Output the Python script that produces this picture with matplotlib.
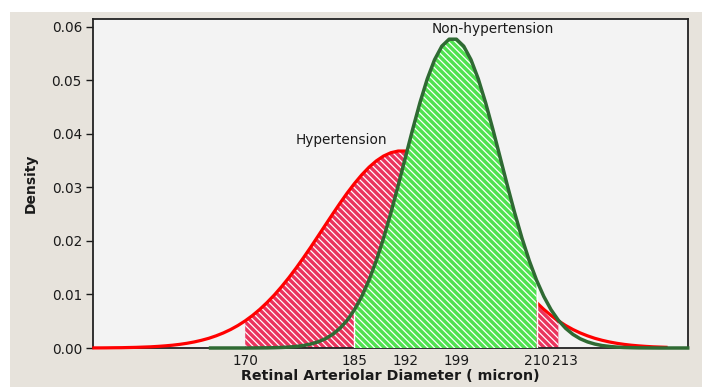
import matplotlib
matplotlib.use("Agg")
import matplotlib.pyplot as plt
import numpy as np
from matplotlib.patches import Rectangle

# ---- data ----
hyp_x = list(range(149, 229))
hyp_density = [
    0.00002, 0.00002, 0.00003, 0.00005, 0.00006, 0.00009, 0.00012, 0.00017, 0.00022, 0.00030,
    0.00040, 0.00052, 0.00068, 0.00088, 0.00113, 0.00144, 0.00181, 0.00227, 0.00281, 0.00345,
    0.00420, 0.00507, 0.00607, 0.00721, 0.00849, 0.00990, 0.01146, 0.01314, 0.01494, 0.01685,
    0.01883, 0.02088, 0.02294, 0.02499, 0.02700, 0.02892, 0.03070, 0.03232, 0.03374, 0.03492,
    0.03583, 0.03645, 0.03676, 0.03676, 0.03645, 0.03583, 0.03492, 0.03374, 0.03232, 0.03070,
    0.02892, 0.02700, 0.02499, 0.02294, 0.02088, 0.01883, 0.01685, 0.01494, 0.01314, 0.01146,
    0.00990, 0.00849, 0.00721, 0.00607, 0.00507, 0.00420, 0.00345, 0.00281, 0.00227, 0.00181,
    0.00144, 0.00113, 0.00088, 0.00068, 0.00052, 0.00040, 0.00030, 0.00022, 0.00017, 0.00012,
]
non_x = list(range(165, 232))
non_density = [
    0.0, 0.0, 0.0, 0.0, 0.0, 0.0, 0.00001, 0.00002, 0.00003, 0.00006,
    0.00010, 0.00017, 0.00029, 0.00046, 0.00074, 0.00114, 0.00172, 0.00254, 0.00367, 0.00517,
    0.00713, 0.00962, 0.01267, 0.01631, 0.02051, 0.02522, 0.03031, 0.03559, 0.04084, 0.04581,
    0.05022, 0.05380, 0.05633, 0.05763, 0.05763, 0.05633, 0.05380, 0.05022, 0.04581, 0.04084,
    0.03559, 0.03031, 0.02522, 0.02051, 0.01631, 0.01267, 0.00962, 0.00713, 0.00517, 0.00367,
    0.00254, 0.00172, 0.00114, 0.00074, 0.00046, 0.00029, 0.00017, 0.00010, 0.00006, 0.00003,
    0.00002, 0.00001, 0.0, 0.0, 0.0, 0.0, 0.0,
]
hyp_shade = (170, 213)
non_shade = (185, 210)
x_ticks = [170, 185, 192, 199, 210, 213]
y_ticks = [0.00, 0.01, 0.02, 0.03, 0.04, 0.05, 0.06]
labels = {"Hypertension": (183.2, 0.0388), "Non-hypertension": (204.0, 0.0596)}

# ---- styling ----
plt.rcParams['font.family'] = ['DejaVu Sans']
plt.rcParams['hatch.linewidth'] = 0.9

fig = plt.figure(figsize=(7.02, 3.87), dpi=100, facecolor='white')
bg = Rectangle((10 / 702, 0), 1, 1 - 12 / 387, transform=fig.transFigure,
               facecolor='#e7e3dc', edgecolor='none', zorder=-10)
fig.patches.append(bg)
ax = fig.add_axes([93 / 702, 1 - 348 / 387, (688 - 93) / 702, (348 - 19) / 387])
ax.set_zorder(1)
ax.set_facecolor('#f3f3f3')

hx = np.array(hyp_x, dtype=float)
hy = np.array(hyp_density)
nx = np.array(non_x, dtype=float)
ny = np.array(non_density)

hatch = '\\' * 5
mh = (hx >= hyp_shade[0]) & (hx <= hyp_shade[1])
ax.fill_between(hx[mh], 0, hy[mh], facecolor='#ea345e', edgecolor='#ffffff',
                hatch=hatch, linewidth=0, zorder=1)
ax.plot(hx, hy, color='#ff0000', lw=2.3, zorder=3, clip_on=False, solid_capstyle='butt')

mn = (nx >= non_shade[0]) & (nx <= non_shade[1])
ax.fill_between(nx[mn], 0, ny[mn], facecolor='#50e250', edgecolor='#ffffff',
                hatch=hatch, linewidth=0, zorder=4)
for b in non_shade:
    ax.vlines(b, 0, ny[nx == b][0], colors='white', lw=1.0, zorder=4.5)
ax.plot(nx, ny, color='#2f6a33', lw=2.5, zorder=5, clip_on=False, solid_capstyle='butt')

for txt, (tx, ty) in labels.items():
    ax.text(tx, ty, txt, ha='center', va='center', fontsize=9.8, color='#1a1a1a', zorder=6)

ax.set_xlim(149.1, 230.8)
ax.set_ylim(0, 0.0614)
ax.set_xticks(x_ticks)
# the crowded "213" label sits a little right of its tick in the reference
ax.set_xticklabels([str(v) if v != 213 else '' for v in x_ticks])
ax.annotate('213', xy=(213, 0), xycoords=('data', 'axes fraction'), xytext=(4.5, -4),
            textcoords='offset points', ha='center', va='top', fontsize=9.8,
            color='#1a1a1a', annotation_clip=False)
ax.set_yticks(y_ticks)
ax.set_yticklabels([f"{v:.2f}" for v in y_ticks])
ax.tick_params(axis='x', length=0, pad=4, labelsize=9.8, colors='#1a1a1a')
ax.tick_params(axis='y', length=5, width=1, pad=3, labelsize=9.8, colors='#1a1a1a')
for s in ax.spines.values():
    s.set_color('#222222')
    s.set_linewidth(1.3)

ax.set_xlabel('Retinal Arteriolar Diameter ( micron)', fontsize=10.3, fontweight='bold',
              labelpad=1, color='#1a1a1a')
ax.set_ylabel('Density', fontsize=10, fontweight='bold', labelpad=10, color='#1a1a1a')

fig.savefig('out.png', dpi=100, facecolor=fig.get_facecolor())
